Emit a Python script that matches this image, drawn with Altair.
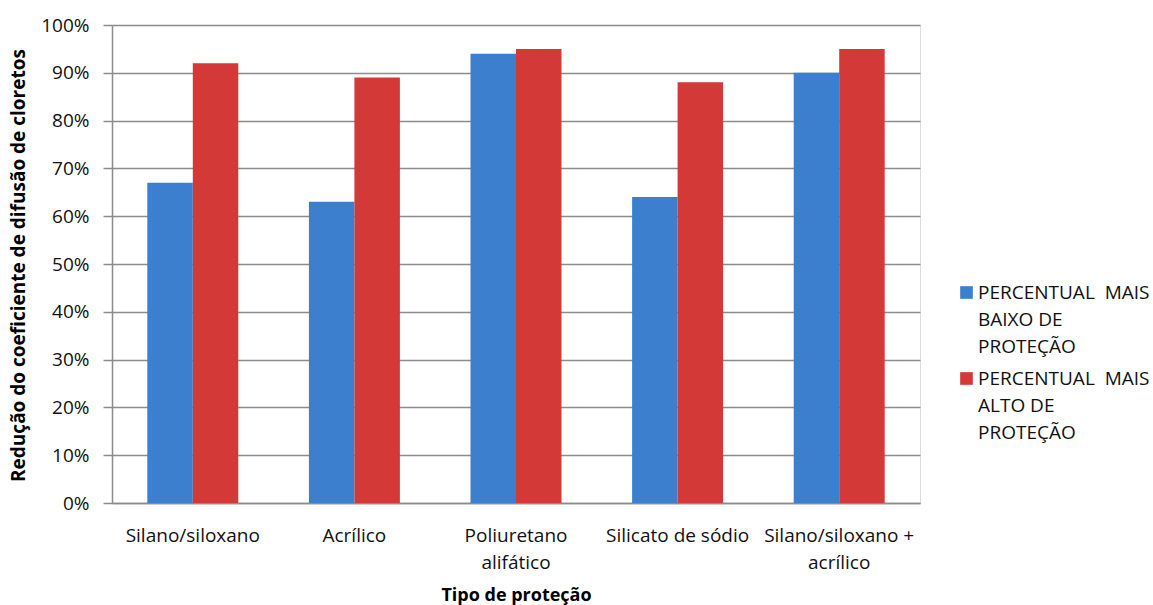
import altair as alt
import pandas as pd

categories = ["Silano/siloxano", "Acrílico", "Poliuretano alifático",
              "Silicato de sódio", "Silano/siloxano + acrílico"]
series = ["PERCENTUAL  MAIS BAIXO DE PROTEÇÃO", "PERCENTUAL  MAIS ALTO DE PROTEÇÃO"]
low_values = [0.67, 0.63, 0.94, 0.64, 0.90]
high_values = [0.92, 0.89, 0.95, 0.88, 0.95]
colors = ["#3b7fce", "#d33a37"]

rows = []
for c, lo, hi in zip(categories, low_values, high_values):
    rows.append({"cat": c, "serie": series[0], "val": lo})
    rows.append({"cat": c, "serie": series[1], "val": hi})
df = pd.DataFrame(rows)

FONT = "Open Sans"

x_label_expr = ("datum.label == 'Poliuretano alifático' ? ['Poliuretano', 'alifático'] : "
                "datum.label == 'Silano/siloxano + acrílico' ? ['Silano/siloxano +', 'acrílico'] : datum.label")
legend_label_expr = ("indexof(datum.label, 'BAIXO') >= 0 ? ['PERCENTUAL\u00a0\u00a0MAIS', 'BAIXO DE', 'PROTEÇÃO'] : "
                     "['PERCENTUAL\u00a0\u00a0MAIS', 'ALTO DE', 'PROTEÇÃO']")

chart = alt.Chart(df).mark_bar().encode(
    x=alt.X("cat:N", sort=categories,
            scale=alt.Scale(paddingInner=0.437, paddingOuter=0.2185),
            axis=alt.Axis(title="Tipo de proteção", labelAngle=0, ticks=False,
                          labelPadding=23, labelExpr=x_label_expr, labelLineHeight=27,
                          labelFontSize=19, labelFont=FONT, labelColor="#111111",
                          titleFont=FONT, titleFontSize=18, titleFontWeight="bold",
                          titleY=97, titleBaseline="alphabetic", titleColor="#000000",
                          domainColor="#8c8c8c", domainWidth=1.5, labelLimit=300)),
    xOffset=alt.XOffset("serie:N", sort=series),
    y=alt.Y("val:Q", scale=alt.Scale(domain=[0, 1], nice=False),
            axis=alt.Axis(title="Redução do coeficiente de difusão de cloretos",
                          format=".0%", values=[i / 10 for i in range(11)],
                          tickSize=9, tickColor="#8c8c8c", tickWidth=1.5,
                          labelPadding=14, labelFontSize=19, labelFont=FONT, labelColor="#111111",
                          gridColor="#8c8c8c", gridWidth=1.5,
                          domainColor="#8c8c8c", domainWidth=1.5,
                          titleFont=FONT, titleFontSize=19, titleFontWeight="bold",
                          titleColor="#000000", titleX=-94, titleY=240,
                          titleBaseline="middle", titleAngle=-90)),
    color=alt.Color("serie:N", sort=series,
                    scale=alt.Scale(domain=series, range=colors),
                    legend=alt.Legend(title=None, orient="none", legendX=845, legendY=258,
                                      labelExpr=legend_label_expr, labelFontSize=19,
                                      labelFont=FONT, labelColor="#111111", labelLimit=300,
                                      symbolType="square", symbolSize=160,
                                      symbolStrokeWidth=0, labelOffset=2,
                                      rowPadding=12)),
).properties(
    width=808, height=478,
    padding={"left": 112, "top": 25, "right": 233, "bottom": 102},
    autosize=alt.AutoSizeParams(type="none"),
).configure_view(stroke=None).configure(
    background="#ffffff",
    style={"guide-label": {"lineHeight": 27}},
)

chart.save("out.html", embed_options={"renderer": "svg", "actions": False})
